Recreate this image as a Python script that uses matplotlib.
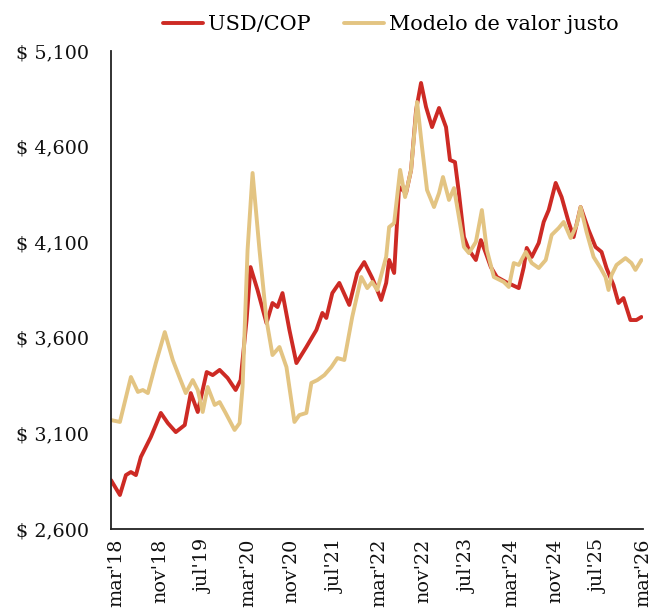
import matplotlib.pyplot as plt
from matplotlib.ticker import FuncFormatter

# Fecha en año decimal (mar'18 = 2018.167)
t_usd = [2018.091, 2018.227, 2018.318, 2018.394, 2018.470, 2018.545, 2018.696, 2018.848,
         2018.954, 2019.075, 2019.211, 2019.302, 2019.408, 2019.544, 2019.635, 2019.740,
         2019.861, 2019.983, 2020.058, 2020.149, 2020.209, 2020.315, 2020.451, 2020.542,
         2020.618, 2020.694, 2020.799, 2020.905, 2021.056, 2021.208, 2021.299, 2021.359,
         2021.450, 2021.556, 2021.707, 2021.828, 2021.934, 2022.055, 2022.131, 2022.191,
         2022.267, 2022.312, 2022.388, 2022.463, 2022.569, 2022.645, 2022.721, 2022.796,
         2022.872, 2022.963, 2023.069, 2023.175, 2023.235, 2023.311, 2023.371, 2023.447,
         2023.523, 2023.628, 2023.704, 2023.779, 2023.855, 2023.946, 2024.082, 2024.279,
         2024.355, 2024.400, 2024.476, 2024.582, 2024.657, 2024.733, 2024.839, 2024.929,
         2025.035, 2025.111, 2025.217, 2025.338, 2025.444, 2025.535, 2025.610, 2025.716,
         2025.792, 2025.867, 2025.973, 2026.064, 2026.140]
usd_cop = [2856, 2778, 2882, 2898, 2882, 2977, 3081, 3207,
           3154, 3107, 3144, 3311, 3212, 3421, 3405, 3432,
           3390, 3327, 3379, 3693, 3970, 3850, 3677, 3782,
           3761, 3834, 3641, 3468, 3552, 3641, 3730, 3704,
           3834, 3887, 3772, 3939, 3996, 3913, 3850, 3798,
           3887, 4007, 3939, 4389, 4357, 4478, 4791, 4933,
           4807, 4702, 4802, 4702, 4530, 4519, 4357, 4127,
           4059, 4007, 4111, 4043, 3970, 3918, 3892, 3860,
           3970, 4070, 4023, 4096, 4206, 4268, 4410, 4336,
           4206, 4127, 4284, 4164, 4075, 4049, 3965, 3876,
           3782, 3808, 3693, 3693, 3709]

t_mod = [2018.091, 2018.227, 2018.394, 2018.500, 2018.575, 2018.651, 2018.772, 2018.908,
         2019.029, 2019.135, 2019.226, 2019.332, 2019.408, 2019.483, 2019.559, 2019.665,
         2019.740, 2019.831, 2019.967, 2020.043, 2020.088, 2020.164, 2020.240, 2020.345,
         2020.451, 2020.542, 2020.648, 2020.754, 2020.875, 2020.950, 2021.056, 2021.132,
         2021.223, 2021.329, 2021.435, 2021.526, 2021.632, 2021.752, 2021.889, 2021.980,
         2022.055, 2022.131, 2022.267, 2022.312, 2022.388, 2022.479, 2022.554, 2022.645,
         2022.736, 2022.811, 2022.887, 2022.993, 2023.069, 2023.129, 2023.220, 2023.296,
         2023.371, 2023.447, 2023.523, 2023.628, 2023.719, 2023.795, 2023.901, 2024.052,
         2024.128, 2024.203, 2024.279, 2024.385, 2024.476, 2024.582, 2024.688, 2024.778,
         2024.884, 2024.960, 2025.066, 2025.157, 2025.217, 2025.308, 2025.414, 2025.520,
         2025.595, 2025.641, 2025.686, 2025.762, 2025.898, 2025.989, 2026.049, 2026.140]
modelo = [3170, 3160, 3395, 3317, 3327, 3311, 3468, 3630,
          3484, 3390, 3311, 3379, 3327, 3212, 3343, 3249,
          3264, 3207, 3118, 3154, 3343, 4059, 4462, 4059,
          3693, 3510, 3552, 3447, 3160, 3196, 3207, 3364,
          3379, 3405, 3447, 3494, 3484, 3709, 3918, 3860,
          3892, 3850, 4023, 4179, 4200, 4478, 4336, 4478,
          4833, 4598, 4373, 4284, 4357, 4441, 4321, 4383,
          4232, 4075, 4043, 4101, 4268, 4059, 3918, 3892,
          3866, 3991, 3981, 4049, 3991, 3965, 4007, 4138,
          4174, 4206, 4122, 4190, 4284, 4153, 4023, 3965,
          3918, 3850, 3928, 3981, 4017, 3991, 3955, 4007]

tick_pos = [2018.167 + 8 * k / 12 for k in range(13)]
tick_labels = ["mar'18", "nov'18", "jul'19", "mar'20", "nov'20", "jul'21", "mar'22",
               "nov'22", "jul'23", "mar'24", "nov'24", "jul'25", "mar'26"]
y_ticks = [2600, 3100, 3600, 4100, 4600, 5100]

color_usd = '#CD2A24'
color_mod = '#E3C482'

plt.rcParams['font.family'] = 'DejaVu Serif'

fig = plt.figure(figsize=(6.53, 6.16), dpi=100)
ax = fig.add_axes([0.170, 0.1412, 0.815, 0.776])

ax.plot(t_usd, usd_cop, color=color_usd, lw=2.8, solid_joinstyle='round',
        solid_capstyle='round', label='USD/COP')
ax.plot(t_mod, modelo, color=color_mod, lw=2.8, solid_joinstyle='round',
        solid_capstyle='round', label='Modelo de valor justo')

ax.set_ylim(2600, 5100)
ax.set_xlim(2018.167 - 0.9 / 12, 2018.167 + 96.0 / 12)
ax.set_yticks(y_ticks)
ax.yaxis.set_major_formatter(FuncFormatter(lambda v, p: f'$ {v:,.0f}'))
ax.set_xticks(tick_pos)
ax.set_xticklabels(tick_labels, rotation=90)

ax.tick_params(axis='y', length=0, pad=16, labelsize=13.8, colors='#111111')
ax.tick_params(axis='x', length=0, pad=7, labelsize=13.8, colors='#111111')

for s in ['top', 'right']:
    ax.spines[s].set_visible(False)
for s in ['left', 'bottom']:
    ax.spines[s].set_color('#222222')
    ax.spines[s].set_linewidth(1.3)

fig.legend(loc='center', bbox_to_anchor=(391 / 653, 1 - 25 / 616), ncol=2,
           frameon=False, fontsize=15, handlelength=1.9, handletextpad=0.25,
           columnspacing=1.6)

fig.savefig('out.png', dpi=100)
